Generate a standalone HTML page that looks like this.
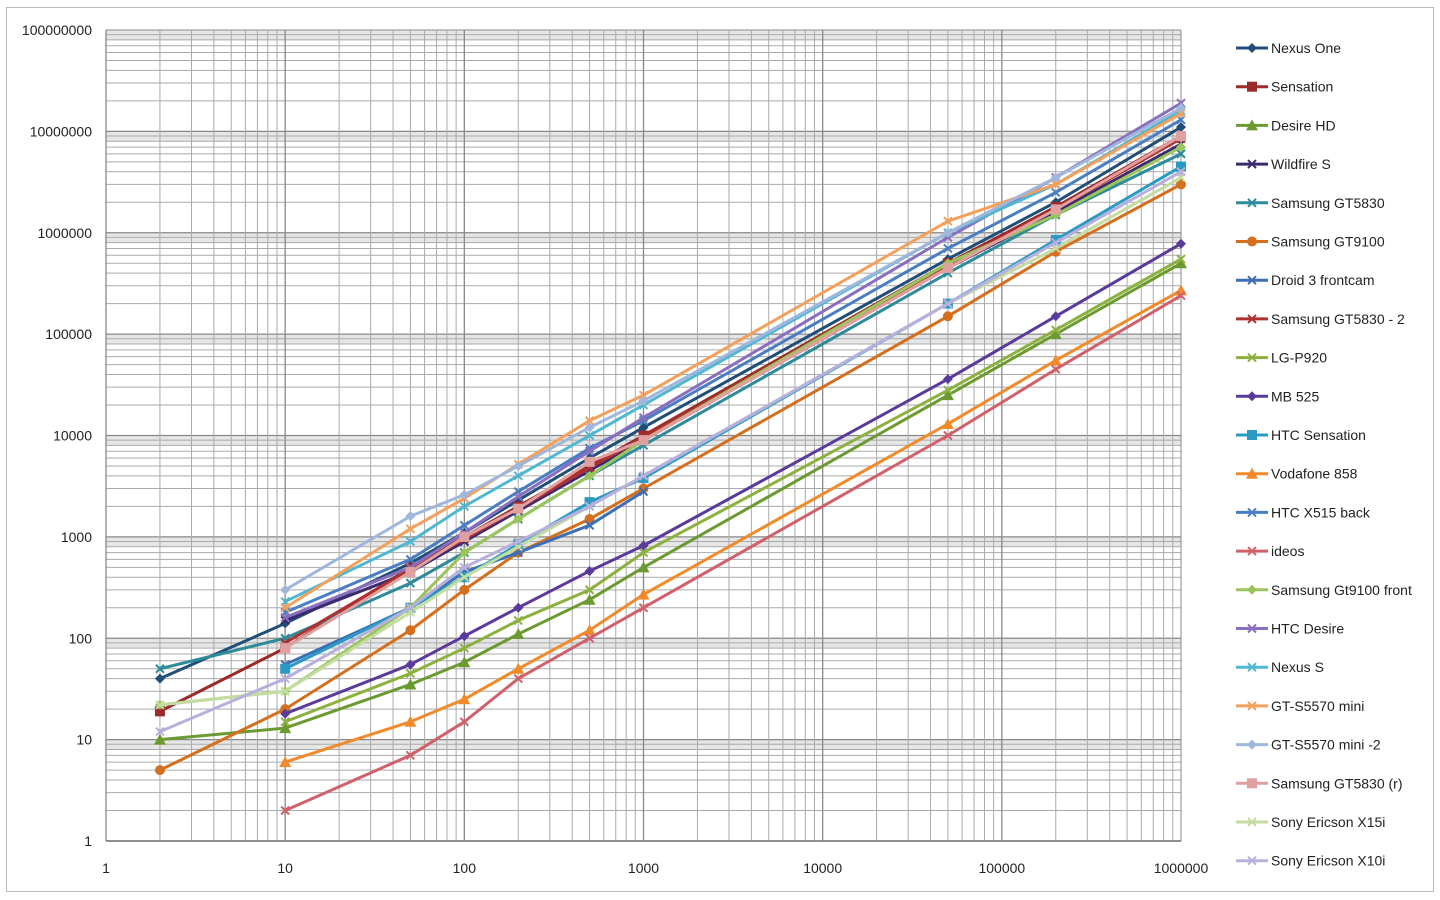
<!DOCTYPE html>
<html><head><meta charset="utf-8"><style>
html,body{margin:0;padding:0;background:#fff;width:1440px;height:900px;overflow:hidden}
svg text{font-family:"Liberation Sans Narrow","Liberation Sans",sans-serif}
</style></head><body>
<svg id="s" width="1440" height="900" xmlns="http://www.w3.org/2000/svg"></svg>
<script>
const S=document.getElementById('s');let h='';
const X0=106,X1=1181,Y0=841,Y1=30;
const dx=(X1-X0)/6,dy=(Y0-Y1)/8;
const X=v=>X0+Math.log10(v)*dx, Y=v=>Y0-Math.log10(v)*dy;
h+=`<rect x="6.5" y="7.5" width="1427" height="884" fill="#fff" stroke="#bbb"/>`;
// gray bands
for(let d=0;d<8;d++){let a=Y(8*10**d),b=Y(10*10**d);h+=`<rect x="${X0}" y="${b}" width="${X1-X0}" height="${a-b}" fill="#e6e6e6"/>`;}
// horizontal grid
for(let d=0;d<8;d++)for(let m=1;m<10;m++){let y=Y(m*10**d);h+=`<line x1="${X0}" x2="${X1}" y1="${y}" y2="${y}" stroke="${m==1?'#888':'#aaa'}" stroke-width="${m==1?1.3:1}"/>`;}
h+=`<line x1="${X0}" x2="${X1}" y1="${Y1}" y2="${Y1}" stroke="#888"/>`;
for(let d=0;d<6;d++)for(let m=1;m<10;m++){let x=X(m*10**d);h+=`<line x1="${x}" x2="${x}" y1="${Y1}" y2="${Y0}" stroke="${m==1?'#888':'#aaa'}" stroke-width="${m==1?1.3:1}"/>`;}
h+=`<line x1="${X1}" x2="${X1}" y1="${Y1}" y2="${Y0}" stroke="#888"/>`;
h+=`<line x1="${X0}" x2="${X1}" y1="${Y0}" y2="${Y0}" stroke="#777" stroke-width="1.5"/>`;
for(let d=0;d<=8;d++){h+=`<text x="92" y="${Y(10**d)+5}" font-size="14" text-anchor="end" fill="#222">${10**d}</text>`;}
for(let d=0;d<=6;d++){h+=`<text x="${X(10**d)}" y="873" font-size="14" text-anchor="middle" fill="#222">${10**d}</text>`;}
const xs=[2,10,50,100,200,500,1000,50000,200000,1000000];
const S_=[
["Nexus One","#1f4e79","d",[40,140,550,1100,2300,6000,12000,550000,2000000,11000000]],
["Sensation","#9b2a2a","s",[19,80,500,1000,2000,5000,10000,500000,1800000,9000000]],
["Desire HD","#6a9a30","t",[10,13,35,58,110,240,500,25000,100000,500000]],
["Wildfire S","#3b2a70","x",[null,150,450,900,1800,4500,9000,450000,1600000,7500000]],
["Samsung GT5830","#2e8b9a","x",[50,100,350,700,1500,4000,8000,400000,1500000,6000000]],
["Samsung GT9100","#d46f1e","o",[5,20,120,300,700,1500,3000,150000,650000,3000000]],
["Droid 3 frontcam","#3c6fb5","x",[null,55,200,450,700,1300,2800,null,null,null]],
["Samsung GT5830 - 2","#b03030","x",[null,90,480,950,1900,4800,9500,480000,1700000,8500000]],
["LG-P920","#8db13f","x",[null,15,45,80,150,300,700,28000,110000,550000]],
["MB 525","#5a3a9a","d",[null,18,55,105,200,460,820,36000,150000,780000]],
["HTC Sensation","#2b9bc4","s",[null,50,200,400,850,2200,3800,200000,850000,4500000]],
["Vodafone 858","#f08a2a","t",[null,6,15,25,50,120,270,13000,55000,270000]],
["HTC X515 back","#4a7ec2","x",[null,180,600,1300,2800,7500,14000,700000,2500000,13000000]],
["ideos","#d0606a","x",[null,2,7,15,40,100,200,10000,45000,240000]],
["Samsung Gt9100 front","#9bc55a","d",[22,30,200,700,1500,4000,9000,500000,1500000,7000000]],
["HTC Desire","#8a6fc0","x",[null,160,500,1100,2500,7000,15000,900000,3500000,19000000]],
["Nexus S","#4fb8d0","x",[null,230,900,2000,4000,10000,20000,1000000,3000000,16000000]],
["GT-S5570 mini","#f5a05a","x",[null,200,1200,2400,5200,14000,25000,1300000,3000000,15000000]],
["GT-S5570 mini -2","#9fb7dc","d",[null,300,1600,2600,5000,12000,22000,1000000,3500000,17000000]],
["Samsung GT5830 (r)","#e0a0a0","s",[null,80,450,1000,1900,5500,9000,450000,1700000,9000000]],
["Sony Ericson X15i","#c3dca0","x",[22,30,180,400,800,2000,4000,200000,700000,3500000]],
["Sony Ericson X10i","#b8b0dc","x",[12,40,200,500,900,2000,4000,200000,800000,4000000]]];
function mk(t,x,y,c){
 if(t=="d")return `<path d="M${x} ${y-5}L${x+5} ${y}L${x} ${y+5}L${x-5} ${y}Z" fill="${c}"/>`;
 if(t=="s")return `<rect x="${x-5}" y="${y-5}" width="10" height="10" fill="${c}"/>`;
 if(t=="t")return `<path d="M${x} ${y-6}L${x+6} ${y+5}L${x-6} ${y+5}Z" fill="${c}"/>`;
 if(t=="o")return `<circle cx="${x}" cy="${y}" r="5" fill="${c}"/>`;
 return `<path d="M${x-4} ${y-4}L${x+4} ${y+4}M${x-4} ${y+4}L${x+4} ${y-4}" stroke="${c}" stroke-width="2"/>`;
}
S_.forEach(([n,c,t,v],i)=>{
 let pts=[];v.forEach((val,j)=>{if(val)pts.push([X(xs[j]),Y(val)]);});
 h+=`<polyline points="${pts.map(p=>p.join(',')).join(' ')}" fill="none" stroke="${c}" stroke-width="3"/>`;
 pts.forEach(p=>h+=mk(t,p[0],p[1],c));
 let ly=48+i*38.7;
 h+=`<line x1="1236" x2="1268" y1="${ly}" y2="${ly}" stroke="${c}" stroke-width="3"/>`+mk(t,1252,ly,c);
 h+=`<text x="1271" y="${ly+5}" font-size="14" fill="#222">${n}</text>`;
});
S.innerHTML=h;
</script>
</body></html>
